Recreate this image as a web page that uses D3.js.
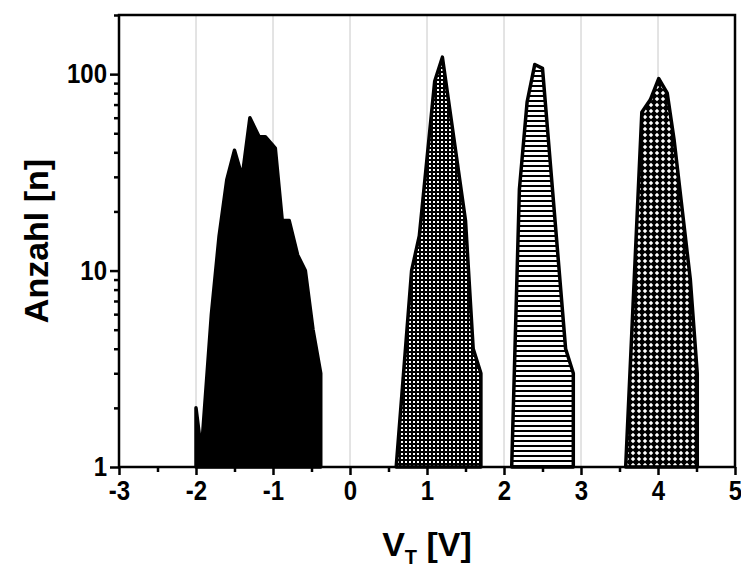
<!DOCTYPE html>
<html>
<head>
<meta charset="utf-8">
<script src="https://cdn.jsdelivr.net/npm/d3@7/dist/d3.min.js"></script>
<style>
body { margin: 0; background: #fff; }
text { font-family: "Liberation Sans", Arial, sans-serif; font-weight: bold; }
</style>
</head>
<body>
<div id="chart"></div>
<script>
var width = 741;
var height = 571;
var margin = {top: 15, right: 6, bottom: 104, left: 119};

// threshold voltage VT [V] and count per bin
var vtBlack = [-2.0, -1.93, -1.8, -1.7, -1.6, -1.5, -1.4, -1.3, -1.18, -1.1, -0.97, -0.88, -0.79, -0.68, -0.58, -0.48, -0.38];
var nBlack  = [2, 1.2, 6, 15, 29, 41, 30, 60, 48, 48, 42, 18, 18, 12, 10, 5, 3];

var vtGrid = [0.6, 0.8, 0.9, 1.1, 1.2, 1.5, 1.6, 1.7];
var nGrid  = [1, 10, 15, 92, 122, 18, 4, 3];

var vtHoriz = [2.1, 2.2, 2.3, 2.4, 2.5, 2.8, 2.9];
var nHoriz  = [1, 26, 72, 112, 107, 4, 3];

var vtCross = [3.58, 3.79, 3.9, 4.01, 4.12, 4.21, 4.42, 4.51];
var nCross  = [1, 64, 74, 95, 80, 46, 9, 3];

var xTicks = [-3, -2.5, -2, -1.5, -1, -0.5, 0, 0.5, 1, 1.5, 2, 2.5, 3, 3.5, 4, 4.5, 5];
var xGrid = [-2, -1, 0, 1, 2, 3, 4];
var yDomain = [1, 200];

var svg = d3.select("#chart").append("svg")
	.attr("width", width)
	.attr("height", height);

var x = d3.scaleLinear()
	.domain([-3, 5])
	.range([margin.left, width - margin.right]);

var y = d3.scaleLog()
	.domain(yDomain)
	.range([height - margin.bottom, margin.top]);

// fill patterns
var defs = svg.append("defs");

var pGrid = defs.append("pattern")
	.attr("id", "pGrid")
	.attr("patternUnits", "userSpaceOnUse")
	.attr("width", 4).attr("height", 4);
pGrid.append("rect").attr("width", 4).attr("height", 4).attr("fill", "black");
pGrid.append("rect").attr("x", 1).attr("y", 1).attr("width", 2).attr("height", 2).attr("fill", "white");

var pHoriz = defs.append("pattern")
	.attr("id", "pHoriz")
	.attr("patternUnits", "userSpaceOnUse")
	.attr("width", 5).attr("height", 5);
pHoriz.append("rect").attr("width", 5).attr("height", 5).attr("fill", "white");
pHoriz.append("rect").attr("width", 5).attr("height", 2).attr("fill", "black");

var pCross = defs.append("pattern")
	.attr("id", "pCross")
	.attr("patternUnits", "userSpaceOnUse")
	.attr("width", 6).attr("height", 6);
pCross.append("rect").attr("width", 6).attr("height", 6).attr("fill", "black");
pCross.append("path").attr("d", "M3,0.8 L5.2,3 L3,5.2 L0.8,3 Z").attr("fill", "white");

// vertical grid lines
svg.selectAll(".grid")
	.data(xGrid)
	.enter()
	.append("line")
	.attr("class", "grid")
	.attr("x1", function(d) { return x(d); })
	.attr("x2", function(d) { return x(d); })
	.attr("y1", y(yDomain[1]))
	.attr("y2", y(yDomain[0]))
	.attr("stroke", "#c8c8c8")
	.attr("stroke-width", 1);

function toPoints(vt, n) {
	return vt.map(function(v, i) { return {v: v, n: n[i]}; });
}

var series = [
	{pts: toPoints(vtBlack, nBlack), fill: "black"},
	{pts: toPoints(vtGrid, nGrid), fill: "url(#pGrid)"},
	{pts: toPoints(vtHoriz, nHoriz), fill: "url(#pHoriz)"},
	{pts: toPoints(vtCross, nCross), fill: "url(#pCross)"}
];

var area = d3.area()
	.x(function(d) { return x(d.v); })
	.y0(y(1))
	.y1(function(d) { return y(d.n); });

svg.selectAll(".dist")
	.data(series)
	.enter()
	.append("path")
	.attr("class", "dist")
	.attr("d", function(d) { return area(d.pts); })
	.attr("fill", function(d) { return d.fill; })
	.attr("stroke", "black")
	.attr("stroke-width", 3.5)
	.attr("stroke-linejoin", "round");

// frame
svg.append("rect")
	.attr("x", x(-3))
	.attr("y", y(yDomain[1]))
	.attr("width", x(5) - x(-3))
	.attr("height", y(yDomain[0]) - y(yDomain[1]))
	.attr("fill", "none")
	.attr("stroke", "black")
	.attr("stroke-width", 2.5);

// x axis
var xAxis = d3.axisBottom(x)
	.tickValues(xTicks)
	.tickSizeOuter(0)
	.tickFormat(function(d) { return Number.isInteger(d) ? d : ""; });

var gx = svg.append("g")
	.attr("transform", "translate(0," + y(1) + ")")
	.call(xAxis);
gx.select(".domain").remove();
gx.selectAll(".tick line")
	.attr("stroke-width", 2.5)
	.attr("y2", function(d) { return Number.isInteger(d) ? 8 : 5; });
gx.selectAll(".tick text")
	.attr("y", 12)
	.attr("transform", "scale(1,1.15)")
	.attr("fill", "black")
	.style("font-size", "24px");

// y axis (log)
var yTicks = y.ticks();
var yAxis = d3.axisLeft(y)
	.tickValues(yTicks)
	.tickSizeOuter(0)
	.tickFormat(function(d) {
		var e = Math.log10(d);
		return Math.abs(e - Math.round(e)) < 1e-9 ? d : "";
	});

var gy = svg.append("g")
	.attr("transform", "translate(" + x(-3) + ",0)")
	.call(yAxis);
gy.select(".domain").remove();
gy.selectAll(".tick line")
	.attr("stroke-width", 2.5)
	.attr("x2", function(d) {
		var e = Math.log10(d);
		return Math.abs(e - Math.round(e)) < 1e-9 ? -9 : -5;
	});
gy.selectAll(".tick text")
	.attr("x", -12)
	.attr("transform", "scale(1,1.15)")
	.attr("fill", "black")
	.style("font-size", "24px");

// axis titles
svg.append("text")
	.attr("transform", "translate(48," + ((y(1) + y(yDomain[1])) / 2) + ") rotate(-90)")
	.attr("text-anchor", "middle")
	.style("font-size", "34px")
	.text("Anzahl [n]");

var xt = svg.append("text")
	.attr("x", (x(-3) + x(5)) / 2)
	.attr("y", 556)
	.attr("text-anchor", "middle")
	.style("font-size", "34px");
xt.append("tspan").text("V");
xt.append("tspan").attr("dy", 8).style("font-size", "20px").text("T");
xt.append("tspan").attr("dy", -8).text(" [V]");
</script>
</body>
</html>
